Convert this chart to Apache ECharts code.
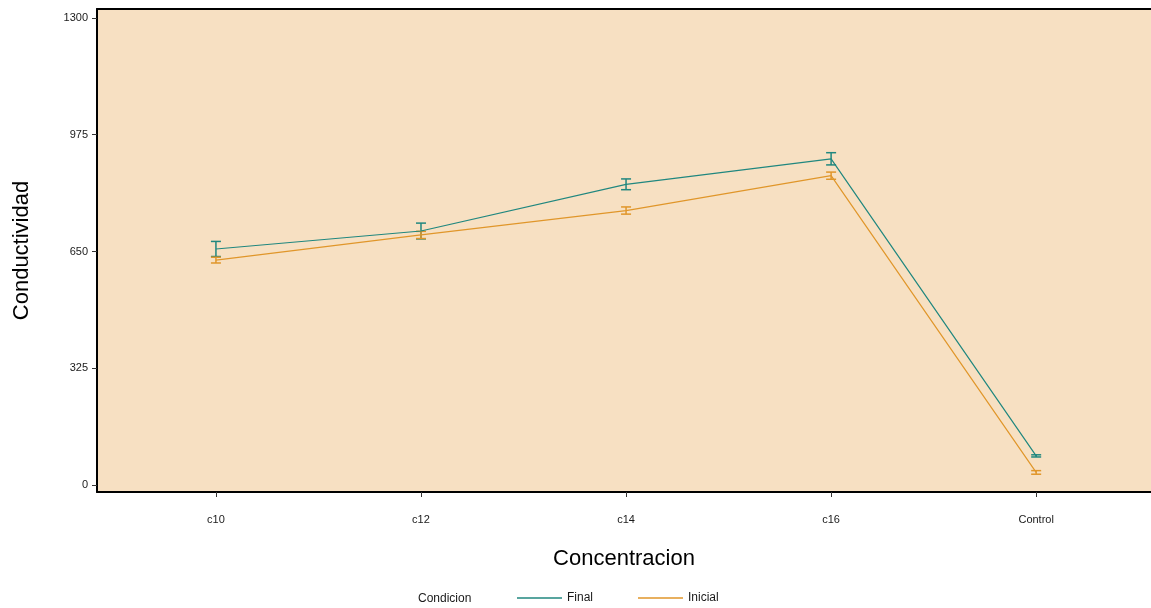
<html>
<head>
<meta charset="utf-8">
<title>Conductividad</title>
<script src="https://cdn.jsdelivr.net/npm/echarts@6/dist/echarts.min.js"></script>
<style>
  html, body { margin: 0; padding: 0; background: #fff; }
  #chart { width: 1151px; height: 608px; }
</style>
</head>
<body>
<div id="chart"></div>
<script>
// data
var categories = ['c10', 'c12', 'c14', 'c16', 'Control'];
var finalMean = [657, 707, 837, 908, 81];
var finalSe = [21, 22, 15, 17, 3];
var inicialMean = [626, 696, 764, 861, 35];
var inicialSe = [8, 10, 10, 10, 5];
var yTicks = [0, 325, 650, 975, 1300];

var teal = '#20877f';
var orange = '#e0962a';

function points(means) {
    return means.map(function (v, i) { return [i + 1, v]; });
}
function bars(means, se) {
    return means.map(function (v, i) { return [i + 1, v - se[i], v + se[i]]; });
}

function errRender(color) {
    return function (params, api) {
        var x = api.value(0);
        var lo = api.coord([x, api.value(1)]);
        var hi = api.coord([x, api.value(2)]);
        var hw = 5;
        var style = { stroke: color, lineWidth: 1.5 };
        return {
            type: 'group',
            children: [
                { type: 'line', shape: { x1: lo[0], y1: lo[1], x2: hi[0], y2: hi[1] }, style: style },
                { type: 'line', shape: { x1: hi[0] - hw, y1: hi[1], x2: hi[0] + hw, y2: hi[1] }, style: style },
                { type: 'line', shape: { x1: lo[0] - hw, y1: lo[1], x2: lo[0] + hw, y2: lo[1] }, style: style }
            ]
        };
    };
}

var chart = echarts.init(document.getElementById('chart'));
var option = {
    animation: false,
    textStyle: { fontFamily: 'Liberation Sans, Arial, sans-serif' },
    grid: {
        left: 97, right: 0, top: 9, bottom: 116,
        show: true, backgroundColor: '#f7e0c2',
        borderWidth: 0
    },
    xAxis: [{
        type: 'value',
        min: 0.42, max: 5.56,
        name: 'Concentracion',
        nameLocation: 'middle',
        nameGap: 56,
        nameTextStyle: { fontSize: 22, color: '#000' },
        splitLine: { show: false },
        axisLine: { show: true, onZero: false, lineStyle: { color: '#000', width: 2 } },
        axisTick: { show: true, customValues: [1, 2, 3, 4, 5], length: 5, lineStyle: { color: '#333' } },
        axisLabel: {
            customValues: [1, 2, 3, 4, 5],
            margin: 22,
            fontSize: 11, color: '#1a1a1a',
            formatter: function (v) { return categories[Math.round(v) - 1]; }
        }
    }, {
        type: 'value', position: 'top',
        min: 0.42, max: 5.56,
        splitLine: { show: false },
        axisLine: { show: true, onZero: false, lineStyle: { color: '#000', width: 2 } },
        axisTick: { show: false },
        axisLabel: { show: false }
    }],
    yAxis: {
        type: 'value',
        min: -19.5, max: 1325,
        name: 'Conductividad',
        nameLocation: 'middle',
        nameGap: 64,
        nameTextStyle: { fontSize: 22, color: '#000' },
        splitLine: { show: false },
        axisLine: { show: true, lineStyle: { color: '#000', width: 2 } },
        axisTick: { show: true, customValues: yTicks, length: 5, lineStyle: { color: '#333' } },
        axisLabel: {
            customValues: yTicks, margin: 9, fontSize: 11, color: '#1a1a1a',
            formatter: function (v) { return String(v); }
        }
    },
    legend: {
        left: 512, top: 587,
        itemWidth: 45, itemHeight: 1.5, itemGap: 45,
        icon: 'rect',
        textStyle: { fontSize: 12, color: '#1a1a1a' },
        data: ['Final', 'Inicial']
    },
    graphic: [{
        type: 'text', left: 418, top: 593,
        style: { text: 'Condicion', fontSize: 12, fill: '#1a1a1a', fontFamily: 'Liberation Sans, Arial, sans-serif' }
    }],
    series: [
        {
            name: 'Final', type: 'line', data: points(finalMean),
            symbol: 'none', lineStyle: { color: teal, width: 1.2 }, itemStyle: { color: teal }
        },
        {
            name: 'Inicial', type: 'line', data: points(inicialMean),
            symbol: 'none', lineStyle: { color: orange, width: 1.2 }, itemStyle: { color: orange }
        },
        {
            name: 'Final', type: 'custom', data: bars(finalMean, finalSe),
            renderItem: errRender(teal), encode: { x: 0, y: [1, 2] }
        },
        {
            name: 'Inicial', type: 'custom', data: bars(inicialMean, inicialSe),
            renderItem: errRender(orange), encode: { x: 0, y: [1, 2] }
        }
    ]
};
chart.setOption(option);
</script>
</body>
</html>
